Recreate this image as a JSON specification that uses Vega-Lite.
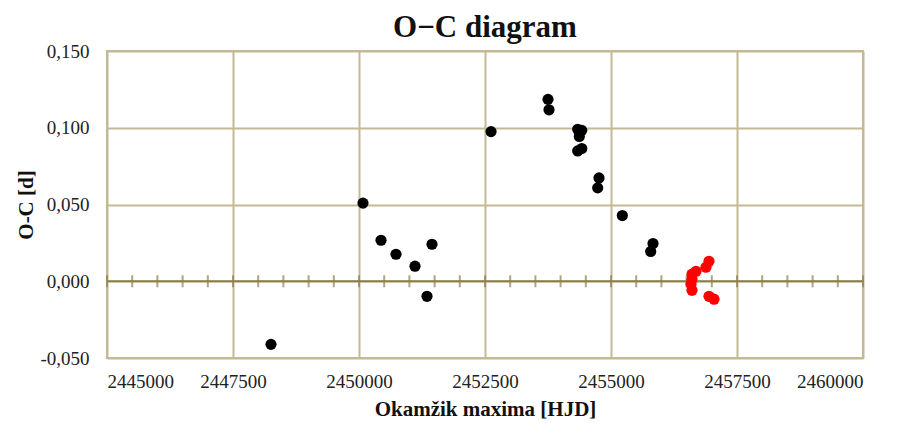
{
  "$schema": "https://vega.github.io/schema/vega-lite/v6.json",
  "width": 756,
  "height": 307,
  "autosize": {"type": "none"},
  "padding": {"left": 107, "top": 51, "right": 34, "bottom": 65},
  "background": "white",
  "title": {
    "text": "O−C diagram",
    "font": "Liberation Serif",
    "fontSize": 31,
    "fontWeight": "bold",
    "color": "#111111",
    "anchor": "middle",
    "offset": -2
  },
  "config": {
    "view": {"stroke": "#c4b995", "strokeWidth": 2},
    "axis": {
      "labelFont": "Liberation Serif",
      "titleFont": "Liberation Serif",
      "labelColor": "#222222",
      "titleColor": "#111111",
      "gridColor": "#c4b995",
      "gridWidth": 2,
      "gridOpacity": 1,
      "domain": false,
      "ticks": false
    }
  },
  "datasets": {
    "points": [
      {"hjd": 2448254, "oc": -0.0411, "set": "a"},
      {"hjd": 2450079, "oc": 0.0509, "set": "a"},
      {"hjd": 2450437, "oc": 0.0267, "set": "a"},
      {"hjd": 2450734, "oc": 0.0176, "set": "a"},
      {"hjd": 2451111, "oc": 0.0098, "set": "a"},
      {"hjd": 2451349, "oc": -0.0098, "set": "a"},
      {"hjd": 2451448, "oc": 0.0241, "set": "a"},
      {"hjd": 2452620, "oc": 0.0975, "set": "a"},
      {"hjd": 2453750, "oc": 0.1185, "set": "a"},
      {"hjd": 2453770, "oc": 0.1117, "set": "a"},
      {"hjd": 2454339, "oc": 0.0990, "set": "a"},
      {"hjd": 2454420, "oc": 0.0983, "set": "a"},
      {"hjd": 2454371, "oc": 0.0943, "set": "a"},
      {"hjd": 2454339, "oc": 0.0849, "set": "a"},
      {"hjd": 2454420, "oc": 0.0865, "set": "a"},
      {"hjd": 2454762, "oc": 0.0673, "set": "a"},
      {"hjd": 2454736, "oc": 0.0608, "set": "a"},
      {"hjd": 2455225, "oc": 0.0428, "set": "a"},
      {"hjd": 2455833, "oc": 0.0246, "set": "a"},
      {"hjd": 2455788, "oc": 0.0194, "set": "a"},
      {"hjd": 2456944, "oc": 0.0130, "set": "b"},
      {"hjd": 2456885, "oc": 0.0091, "set": "b"},
      {"hjd": 2456687, "oc": 0.0065, "set": "b"},
      {"hjd": 2456607, "oc": 0.0046, "set": "b"},
      {"hjd": 2456607, "oc": 0.0013, "set": "b"},
      {"hjd": 2456587, "oc": -0.0020, "set": "b"},
      {"hjd": 2456607, "oc": -0.0059, "set": "b"},
      {"hjd": 2456944, "oc": -0.0098, "set": "b"},
      {"hjd": 2457044, "oc": -0.0117, "set": "b"}
    ],
    "ticks": [
      {"hjd": 2445000, "oc": 0}, {"hjd": 2445500, "oc": 0}, {"hjd": 2446000, "oc": 0},
      {"hjd": 2446500, "oc": 0}, {"hjd": 2447000, "oc": 0}, {"hjd": 2447500, "oc": 0},
      {"hjd": 2448000, "oc": 0}, {"hjd": 2448500, "oc": 0}, {"hjd": 2449000, "oc": 0},
      {"hjd": 2449500, "oc": 0}, {"hjd": 2450000, "oc": 0}, {"hjd": 2450500, "oc": 0},
      {"hjd": 2451000, "oc": 0}, {"hjd": 2451500, "oc": 0}, {"hjd": 2452000, "oc": 0},
      {"hjd": 2452500, "oc": 0}, {"hjd": 2453000, "oc": 0}, {"hjd": 2453500, "oc": 0},
      {"hjd": 2454000, "oc": 0}, {"hjd": 2454500, "oc": 0}, {"hjd": 2455000, "oc": 0},
      {"hjd": 2455500, "oc": 0}, {"hjd": 2456000, "oc": 0}, {"hjd": 2456500, "oc": 0},
      {"hjd": 2457000, "oc": 0}, {"hjd": 2457500, "oc": 0}, {"hjd": 2458000, "oc": 0},
      {"hjd": 2458500, "oc": 0}, {"hjd": 2459000, "oc": 0}, {"hjd": 2459500, "oc": 0},
      {"hjd": 2460000, "oc": 0}
    ],
    "zero": [{"oc": 0}]
  },
  "layer": [
    {
      "data": {"name": "zero"},
      "mark": {"type": "rule", "color": "#8c7f4e", "strokeWidth": 2},
      "encoding": {
        "y": {
          "field": "oc",
          "type": "quantitative",
          "scale": {"domain": [-0.05, 0.15], "nice": false, "zero": false},
          "axis": {
            "values": [-0.05, 0, 0.05, 0.1, 0.15],
            "labelExpr": "replace(replace(format(datum.value, '.3f'), '.', ','), '−', '-')",
            "labelFont": "Liberation Serif",
            "labelFontSize": 19,
            "labelPadding": 18,
            "title": "O-C [d]",
            "titleFont": "Liberation Serif",
            "titleFontSize": 21,
            "titleFontWeight": "bold",
            "titlePadding": 3
          }
        }
      }
    },
    {
      "data": {"name": "ticks"},
      "mark": {"type": "tick", "orient": "vertical", "color": "#8c7f4e", "size": 12, "thickness": 2},
      "encoding": {
        "x": {"field": "hjd", "type": "quantitative"},
        "y": {"field": "oc", "type": "quantitative"}
      }
    },
    {
      "data": {"name": "points"},
      "mark": {"type": "point", "filled": true, "opacity": 1, "size": 125},
      "encoding": {
        "x": {
          "field": "hjd",
          "type": "quantitative",
          "scale": {"domain": [2445000, 2460000], "nice": false, "zero": false},
          "axis": {
            "values": [2445000, 2447500, 2450000, 2452500, 2455000, 2457500, 2460000],
            "format": "d",
            "labelFont": "Liberation Serif",
            "labelFontSize": 19,
            "labelPadding": 14,
            "title": "Okamžik maxima [HJD]",
            "titleFont": "Liberation Serif",
            "titleFontSize": 21,
            "titleFontWeight": "bold",
            "titlePadding": 7
          }
        },
        "y": {"field": "oc", "type": "quantitative"},
        "color": {
          "field": "set",
          "type": "nominal",
          "scale": {"domain": ["a", "b"], "range": ["#000000", "#ff0000"]},
          "legend": null
        }
      }
    }
  ]
}
